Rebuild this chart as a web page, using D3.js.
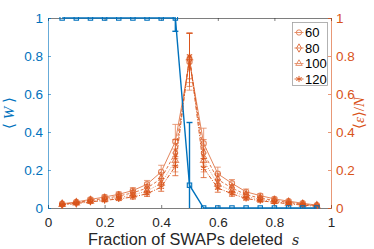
<!DOCTYPE html>
<html>
<head>
<meta charset="utf-8">
<script src="https://cdn.jsdelivr.net/npm/d3@7"></script>
<style>
  body { margin: 0; background: #fff; }
  svg { font-family: "Liberation Sans", Arial, sans-serif; }
</style>
</head>
<body>
<div id="chart-container"></div>
<script>
// Fraction of SWAPs deleted
const sValues = [0.05, 0.10, 0.15, 0.20, 0.25, 0.30, 0.35, 0.40, 0.45, 0.50,
                 0.55, 0.60, 0.65, 0.70, 0.75, 0.80, 0.85, 0.90, 0.95];

// <W> (left axis) and its error bars
const wValues = [1, 1, 1, 1, 1, 1, 1, 1, 1, 0.12, 0, 0, 0, 0, 0, 0, 0, 0, 0];
const wErrors = [0, 0, 0, 0, 0, 0, 0, 0, 0.07, 0.33, 0, 0, 0, 0, 0, 0, 0, 0, 0];

// <E>/N (right axis), one series per N
const seriesNames = ["60", "80", "100", "120"];
const e60  = [0.022, 0.032, 0.045, 0.058, 0.072, 0.092, 0.125, 0.19, 0.35, 0.77, 0.34, 0.18, 0.13, 0.085, 0.065, 0.048, 0.036, 0.025, 0.015];
const e80  = [0.020, 0.028, 0.040, 0.050, 0.063, 0.080, 0.105, 0.155, 0.29, 0.78, 0.29, 0.15, 0.105, 0.07, 0.052, 0.040, 0.030, 0.020, 0.012];
const e100 = [0.018, 0.026, 0.035, 0.045, 0.055, 0.068, 0.090, 0.13, 0.25, 0.79, 0.25, 0.125, 0.09, 0.06, 0.045, 0.034, 0.025, 0.018, 0.010];
const e120 = [0.016, 0.024, 0.032, 0.040, 0.048, 0.058, 0.075, 0.11, 0.22, 0.80, 0.21, 0.105, 0.075, 0.05, 0.038, 0.030, 0.022, 0.015, 0.009];
const err60  = [0.005, 0.006, 0.008, 0.010, 0.012, 0.015, 0.020, 0.035, 0.09, 0.15, 0.08, 0.035, 0.020, 0.015, 0.010, 0.008, 0.006, 0.005, 0.004];
const err80  = [0.004, 0.005, 0.007, 0.009, 0.011, 0.013, 0.018, 0.030, 0.07, 0.14, 0.07, 0.030, 0.018, 0.012, 0.009, 0.007, 0.005, 0.004, 0.003];
const err100 = [0.004, 0.005, 0.006, 0.008, 0.010, 0.012, 0.016, 0.025, 0.06, 0.13, 0.06, 0.025, 0.015, 0.010, 0.008, 0.006, 0.005, 0.004, 0.003];
const err120 = [0.003, 0.004, 0.005, 0.007, 0.009, 0.011, 0.014, 0.022, 0.05, 0.12, 0.05, 0.022, 0.013, 0.009, 0.007, 0.005, 0.004, 0.003, 0.002];

const xTicks = [0, 0.2, 0.4, 0.6, 0.8, 1];
const yTicks = [0, 0.2, 0.4, 0.6, 0.8, 1];

const blue = "#0072BD";
const orange = "#D95319";
const dark = "#262626";

const width = 374, height = 249;
const margin = { top: 18, right: 43, bottom: 41, left: 48 };

const svg = d3.select("#chart-container")
  .append("svg")
  .attr("width", width)
  .attr("height", height);

const x = d3.scaleLinear().domain([0, 1]).range([margin.left, width - margin.right]);
const y = d3.scaleLinear().domain([0, 1]).range([height - margin.bottom, margin.top]);

// clip for the plot area
svg.append("clipPath").attr("id", "plot-clip")
  .append("rect")
  .attr("x", x(0)).attr("y", y(1) - 1)
  .attr("width", x(1) - x(0)).attr("height", y(0) - y(1) + 2);

// top box line + top ticks
svg.append("g")
  .attr("transform", "translate(0," + y(1) + ")")
  .call(d3.axisTop(x).tickValues(xTicks).tickSize(-3).tickFormat(""))
  .call(g => g.select(".domain").attr("stroke", dark).attr("stroke-width", 0.6))
  .call(g => g.selectAll(".tick line").attr("stroke", dark).attr("stroke-width", 0.6));

// bottom axis
svg.append("g")
  .attr("transform", "translate(0," + y(0) + ")")
  .call(d3.axisBottom(x).tickValues(xTicks).tickSize(-3).tickPadding(9)
    .tickFormat(d => d === 0 || d === 1 ? d3.format("d")(d) : d3.format(".1f")(d)))
  .call(g => g.select(".domain").attr("stroke", dark).attr("stroke-width", 0.6))
  .call(g => g.selectAll(".tick line").attr("stroke", dark).attr("stroke-width", 0.6))
  .call(g => g.selectAll("text").attr("fill", dark).style("font-size", "13.5px")
    .style("font-family", "'Liberation Sans', Arial, sans-serif"));

const yFmt = d => d === 0 || d === 1 ? d3.format("d")(d) : d3.format(".1f")(d);

// left axis
svg.append("g")
  .attr("transform", "translate(" + x(0) + ",0)")
  .call(d3.axisLeft(y).tickValues(yTicks).tickSize(-3).tickPadding(5).tickFormat(yFmt))
  .call(g => g.select(".domain").attr("stroke", blue).attr("stroke-width", 0.6))
  .call(g => g.selectAll(".tick line").attr("stroke", blue).attr("stroke-width", 0.6))
  .call(g => g.selectAll("text").attr("fill", blue).style("font-size", "13.5px")
    .style("font-family", "'Liberation Sans', Arial, sans-serif"));

// right axis
svg.append("g")
  .attr("transform", "translate(" + x(1) + ",0)")
  .call(d3.axisRight(y).tickValues(yTicks).tickSize(-3).tickPadding(5).tickFormat(yFmt))
  .call(g => g.select(".domain").attr("stroke", orange).attr("stroke-width", 0.6))
  .call(g => g.selectAll(".tick line").attr("stroke", orange).attr("stroke-width", 0.6))
  .call(g => g.selectAll("text").attr("fill", orange).style("font-size", "13.5px")
    .style("font-family", "'Liberation Sans', Arial, sans-serif"));

// orange series
const eSeries = [
  { name: seriesNames[0], values: e60,  errors: err60,  symbol: d3.symbolCircle,    size: 22, opacity: 0.7,  dash: null },
  { name: seriesNames[1], values: e80,  errors: err80,  symbol: d3.symbolDiamond,   size: 20, opacity: 0.8,  dash: "3,2" },
  { name: seriesNames[2], values: e100, errors: err100, symbol: d3.symbolTriangle,  size: 18, opacity: 0.65, dash: "1,1.5" },
  { name: seriesNames[3], values: e120, errors: err120, symbol: d3.symbolAsterisk,  size: 26, opacity: 0.95, dash: "4,1.5,1,1.5" }
];

const plot = svg.append("g").attr("clip-path", "url(#plot-clip)");
const line = d3.line().x(d => x(d.s)).y(d => y(d.v));

eSeries.forEach(ser => {
  const pts = sValues.map((s, i) => ({ s: s, v: ser.values[i], e: ser.errors[i] }));
  const g = plot.append("g").attr("opacity", ser.opacity);
  g.append("path")
    .datum(pts)
    .attr("fill", "none")
    .attr("stroke", orange)
    .attr("stroke-width", 1)
    .attr("stroke-dasharray", ser.dash)
    .attr("d", line);
  // error bars
  const eb = g.selectAll(".eb").data(pts.filter(d => d.e > 0)).enter().append("g");
  eb.append("line")
    .attr("x1", d => x(d.s)).attr("x2", d => x(d.s))
    .attr("y1", d => y(d.v - d.e)).attr("y2", d => y(d.v + d.e))
    .attr("stroke", orange).attr("stroke-width", 0.8);
  [-1, 1].forEach(sign => {
    eb.append("line")
      .attr("x1", d => x(d.s) - 3).attr("x2", d => x(d.s) + 3)
      .attr("y1", d => y(d.v + sign * d.e)).attr("y2", d => y(d.v + sign * d.e))
      .attr("stroke", orange).attr("stroke-width", 0.8);
  });
  g.selectAll(".mk").data(pts).enter().append("path")
    .attr("transform", d => "translate(" + x(d.s) + "," + y(d.v) + ")")
    .attr("d", d3.symbol().type(ser.symbol).size(ser.size))
    .attr("fill", "none")
    .attr("stroke", orange)
    .attr("stroke-width", 1.1);
});

// blue W series
const wPts = sValues.map((s, i) => ({ s: s, v: wValues[i], e: wErrors[i] }));
plot.append("path")
  .datum(wPts)
  .attr("fill", "none")
  .attr("stroke", blue)
  .attr("stroke-width", 1.4)
  .attr("d", line);
const wEb = plot.selectAll(".web").data(wPts.filter(d => d.e > 0)).enter().append("g");
wEb.append("line")
  .attr("x1", d => x(d.s)).attr("x2", d => x(d.s))
  .attr("y1", d => y(Math.max(0, d.v - d.e))).attr("y2", d => y(Math.min(1, d.v + d.e)))
  .attr("stroke", blue).attr("stroke-width", 1.4);
wEb.append("line")
  .attr("x1", d => x(d.s) - 3).attr("x2", d => x(d.s) + 3)
  .attr("y1", d => y(d.v - d.e)).attr("y2", d => y(d.v - d.e))
  .attr("stroke", blue).attr("stroke-width", 1.4);
wEb.append("line")
  .attr("x1", d => x(d.s) - 3).attr("x2", d => x(d.s) + 3)
  .attr("y1", d => y(d.v + d.e)).attr("y2", d => y(d.v + d.e))
  .attr("stroke", blue).attr("stroke-width", 1.4);
plot.selectAll(".wmk").data(wPts).enter().append("rect")
  .attr("x", d => x(d.s) - 2.2).attr("y", d => y(d.v) - 2.2)
  .attr("width", 4.4).attr("height", 4.4)
  .attr("fill", "none")
  .attr("stroke", blue)
  .attr("stroke-width", 1.1);

// legend
const legend = svg.append("g").attr("transform", "translate(292.5,22.5)");
legend.append("rect")
  .attr("width", 35).attr("height", 63)
  .attr("fill", "#fff")
  .attr("stroke", "#a0a0a0")
  .attr("stroke-width", 0.8);
eSeries.forEach((ser, i) => {
  const ly = 10 + i * 15.5;
  const lg = legend.append("g").attr("opacity", ser.opacity);
  lg.append("line")
    .attr("x1", 2).attr("x2", 11).attr("y1", ly).attr("y2", ly)
    .attr("stroke", orange).attr("stroke-width", 0.9);
  lg.append("path")
    .attr("transform", "translate(6.5," + ly + ")")
    .attr("d", d3.symbol().type(ser.symbol).size(ser.size))
    .attr("fill", "none").attr("stroke", orange).attr("stroke-width", 1);
  legend.append("text")
    .attr("x", 12.5).attr("y", ly + 4.5)
    .attr("fill", "#000")
    .style("font-size", "13px")
    .text(ser.name);
});

// axis labels
svg.append("text")
  .attr("x", 88).attr("y", 245)
  .attr("text-anchor", "start")
  .attr("fill", dark)
  .style("font-size", "16.3px")
  .html("Fraction of SWAPs deleted&#160;&#160;<tspan font-family=\"'DejaVu Serif', serif\" font-style=\"italic\" font-size=\"14px\">s</tspan>");

svg.append("text")
  .attr("transform", "translate(14," + y(0.5) + ") rotate(-90)")
  .attr("text-anchor", "middle")
  .attr("fill", blue)
  .style("font-size", "15px")
  .style("font-family", "'Liberation Serif', serif")
  .html("⟨&#160;<tspan font-style=\"italic\">W</tspan>&#160;⟩");

svg.append("text")
  .attr("transform", "translate(364," + y(0.5) + ") rotate(-90)")
  .attr("text-anchor", "middle")
  .attr("fill", orange)
  .style("font-size", "15px")
  .style("font-family", "'Liberation Serif', serif")
  .html("⟨<tspan font-style=\"italic\">ε</tspan>⟩/<tspan font-style=\"italic\">N</tspan>");
</script>
</body>
</html>
